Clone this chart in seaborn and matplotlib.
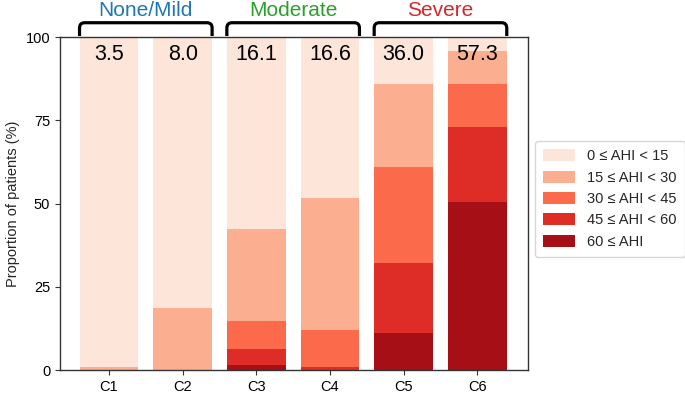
import numpy as np
import pandas as pd
import matplotlib
matplotlib.use("Agg")
import matplotlib.pyplot as plt
from matplotlib.path import Path
from matplotlib.patches import PathPatch, Patch
import matplotlib.transforms as mtransforms
import seaborn as sns

# ---- data ----
clusters = ["C1", "C2", "C3", "C4", "C5", "C6"]
mean_ahi = ["3.5", "8.0", "16.1", "16.6", "36.0", "57.3"]
levels = ["0 \u2264 AHI < 15", "15 \u2264 AHI < 30", "30 \u2264 AHI < 45",
          "45 \u2264 AHI < 60", "60 \u2264 AHI"]
ahi_0_15 = [99.2, 81.5, 57.7, 48.3, 14.2, 4.2]
ahi_15_30 = [0.8, 18.5, 27.6, 39.8, 24.8, 10.0]
ahi_30_45 = [0.0, 0.0, 8.5, 11.1, 28.8, 12.8]
ahi_45_60 = [0.0, 0.0, 4.7, 0.8, 21.0, 22.5]
ahi_60_up = [0.0, 0.0, 1.5, 0.0, 11.2, 50.5]
groups = ["None/Mild", "Moderate", "Severe"]
group_colors = ["#1f77b4", "#2ca02c", "#d62728"]
colors = ["#fee5d9", "#fcae91", "#fb6a4a", "#de2d26", "#a50f15"]

sns.set_style("ticks")
plt.rcParams["font.family"] = ["Liberation Sans", "DejaVu Sans"]

fig = plt.figure(figsize=(6.85, 3.94), dpi=100)
ax = fig.add_axes([0.0876, 0.0609, 0.771 - 0.0876, 0.906 - 0.0609])

# stacked from bottom: 60+, 45-60, 30-45, 15-30, 0-15
stack = [ahi_60_up, ahi_45_60, ahi_30_45, ahi_15_30, ahi_0_15]
stack_colors = colors[::-1]
cums = np.cumsum(np.array(stack, dtype=float), axis=0)
for i in range(len(stack) - 1, -1, -1):
    df = pd.DataFrame({"cluster": clusters, "value": cums[i]})
    sns.barplot(data=df, x="cluster", y="value", color=stack_colors[i],
                saturation=1, width=0.8, ax=ax, linewidth=0, errorbar=None)

ax.set_xlim(-0.665, 5.69)
ax.set_ylim(0, 100)
ax.set_yticks([0, 25, 50, 75, 100])
ax.set_xlabel("")
ax.set_ylabel("Proportion of patients (%)", fontsize=10.5)
ax.tick_params(labelsize=10.5, colors="#333333", labelcolor="black")
for s in ax.spines.values():
    s.set_color("#333333")
    s.set_linewidth(1.0)

for i, lab in enumerate(mean_ahi):
    ax.text(i, 98.0, lab, ha="center", va="top", fontsize=15.5, color="black")

# brackets above axes
trans = mtransforms.blended_transform_factory(ax.transData, ax.transAxes)
yb, yt = 1.003, 1.043
rx, ry = 0.07, 0.016
for g in range(3):
    x0 = 2 * g - 0.4
    x1 = 2 * g + 1 + 0.4
    verts = [(x0, yb), (x0, yt - ry), (x0, yt), (x0 + rx, yt),
             (x1 - rx, yt), (x1, yt), (x1, yt - ry), (x1, yb)]
    codes = [Path.MOVETO, Path.LINETO, Path.CURVE3, Path.CURVE3,
             Path.LINETO, Path.CURVE3, Path.CURVE3, Path.LINETO]
    patch = PathPatch(Path(verts, codes), transform=trans, fill=False,
                      edgecolor="black", linewidth=2.3, clip_on=False)
    ax.add_patch(patch)
    ax.text(2 * g + 0.5, 1.062, groups[g], transform=trans, ha="center",
            va="baseline", fontsize=15, color=group_colors[g])

handles = [Patch(facecolor=c, edgecolor="none") for c in colors]
fig.legend(handles, levels, loc="center right", bbox_to_anchor=(1.01, 0.495),
           fontsize=10.5, frameon=True, handlelength=2.2, handleheight=0.9,
           borderpad=0.55, labelspacing=0.5, handletextpad=0.8)

fig.savefig("out.png", dpi=100)
